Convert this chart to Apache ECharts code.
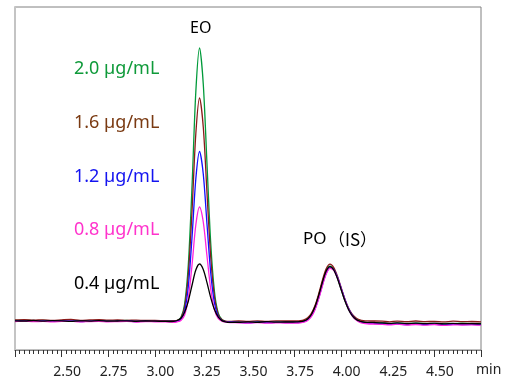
<!DOCTYPE html>
<html>
<head>
<meta charset="utf-8">
<script src="https://cdn.jsdelivr.net/npm/echarts@6/dist/echarts.min.js"></script>
<style>html,body{margin:0;padding:0;background:#fff}#c{width:522px;height:386px}</style>
</head>
<body>
<div id="c"></div>
<script>
// retention time (min)
const times = [
  2.25,2.30,2.35,2.40,2.45,2.50,2.55,2.60,2.65,2.70,2.75,2.80,2.85,2.90,2.95,3.00,3.05,
  3.08,3.10,3.12,3.14,3.16,3.18,3.20,3.22,3.24,3.26,3.28,3.30,3.32,3.34,3.36,3.38,3.40,
  3.45,3.50,3.55,3.60,3.65,3.70,
  3.74,3.76,3.78,3.80,3.82,3.84,3.86,3.88,3.90,3.92,3.94,3.96,3.98,4.00,4.02,4.04,4.06,4.08,4.10,4.12,4.14,4.16,4.18,
  4.22,4.26,4.30,4.35,4.40,4.45,4.50,4.55,4.60,4.65,4.70,4.75
];
const seriesNames = ['2.0 µg/mL','1.6 µg/mL','1.2 µg/mL','0.8 µg/mL','0.4 µg/mL'];
const c20 = [
  1.5,1.8,1.2,1.6,1.0,1.4,1.7,1.1,1.3,1.6,1.0,1.2,1.5,0.9,1.3,1.1,1.0,
  1,1,1.5,4.5,18,58,137,230,274,238,158,79,30.5,9,2.5,0.5,0,
  0.2,-0.3,0.3,-0.2,0.1,0,
  0,0.1,0.3,1.1,3.1,7.5,15.5,27.2,40.6,51.6,55.8,52.3,43.8,32.4,21.2,12.2,6.1,2.5,0.6,-0.3,-0.6,-0.8,-0.9,
  -1.0,-1.6,-1.1,-1.8,-1.2,-1.5,-1.9,-1.3,-1.6,-1.2,-1.7,-1.5
];
const c16 = [
  2.0,2.4,1.8,2.2,1.6,2.1,2.5,1.7,2.0,2.3,1.8,2.0,1.6,1.9,1.5,1.7,1.3,
  1.2,1.3,1.6,4,15,48,112,188,224,195,129,65,25,7.5,2.2,0.8,0.5,
  1.0,0.6,1.2,0.7,1.1,1.0,
  1,1.1,1.4,2.2,4.2,8.7,16.8,28.7,42.3,53.5,57.8,54.4,45.8,34.3,22.9,13.8,7.6,4,2.2,1.4,1.1,1,1,
  0.8,0.2,0.9,0.3,1.0,0.4,0.6,0.1,0.8,0.3,0.5,0.2
];
const c12 = [
  1.0,1.3,0.7,1.1,0.6,1.0,1.2,0.5,0.9,1.1,0.6,0.8,1.0,0.5,0.8,0.6,0.6,
  0.6,0.5,0.8,2.7,11,36,85.5,143,170.5,148,98,49,19,5.5,1.5,0.3,0,
  -0.3,-0.8,-0.2,-0.6,-0.4,-0.5,
  -0.5,-0.5,-0.3,0.3,2.2,6,13.2,24.3,37.5,49,54.2,52.3,44.7,33.8,22.6,13.3,6.6,2.6,0.4,-0.7,-1.2,-1.4,-1.5,
  -1.8,-2.4,-1.9,-2.6,-2.0,-2.5,-2.2,-2.8,-2.3,-2.6,-2.4,-2.7
];
const c08 = [
  0.5,0.9,0.3,0.7,0.2,0.6,0.8,0.1,0.5,0.7,0.2,0.4,0.6,0.0,0.4,0.2,0.1,
  0,-0.3,0.2,1.5,7,24,57.5,97,115,100,66,33,12.5,3.6,0.8,0,-0.5,
  -0.8,-1.2,-0.6,-1.1,-0.9,-1.0,
  -1,-1,-0.8,-0.2,1.6,5.4,12.6,23.6,36.8,48.3,53.6,51.6,44,33,21.8,12.5,5.9,1.9,-0.3,-1.3,-1.8,-2,-2,
  -2.3,-2.9,-2.2,-3.0,-2.5,-3.1,-2.6,-3.4,-2.8,-3.0,-2.9,-3.2
];
const c04 = [
  1.2,1.0,1.5,0.8,1.3,1.1,0.7,1.2,0.9,1.4,0.8,1.0,1.2,0.7,1.0,0.8,0.6,
  0.5,0.7,1.5,3.8,9.8,21,37,52,58,52.5,39.3,24.4,12.4,5,1.4,0.1,-0.4,
  -0.4,0.2,-0.3,0.3,-0.2,0,
  0,0.1,0.3,1.1,3.1,7.5,15.4,27,40.3,51.2,55.4,52,43.5,32.3,21.2,12.3,6.2,2.6,0.8,0,-0.3,-0.4,-0.5,
  -0.8,-1.3,-0.9,-1.5,-1.1,-1.6,-1.2,-1.8,-1.4,-1.7,-1.5,-1.8
];
const xTickLabels = ['2.50','2.75','3.00','3.25','3.50','3.75','4.00','4.25','4.50'];

const lineColors = ['#009a3a','#8b1a1a','#1010ff','#ff22dd','#000000'];
const labelColors = ['#0f9a3a','#7a3a12','#1414f0','#ff33cc','#000000'];
const values = [c20,c16,c12,c08,c04];

const chart = echarts.init(document.getElementById('c'), null, {renderer:'canvas'});
const font = '"Noto Sans", "Noto Sans CJK SC", sans-serif';
const cjk = '"Noto Sans CJK SC", "Noto Sans", sans-serif';
const labelY = [72,126,180,233,287];

chart.setOption({
  animation:false,
  grid:{left:15,right:41,top:7,bottom:36,show:true,borderColor:'#808080',borderWidth:1},
  xAxis:{
    type:'value', min:2.25, max:4.75, interval:0.25,
    axisLine:{show:true,onZero:false,lineStyle:{color:'#808080',width:1}},
    axisTick:{show:true,inside:false,length:7,lineStyle:{color:'#333'}},
    minorTick:{show:true,splitNumber:10,length:4,lineStyle:{color:'#333'}},
    splitLine:{show:false},
    axisLabel:{
      fontFamily:font,fontSize:14,color:'#222',margin:15,padding:[0,0,0,11],
      formatter:function(v){const s=v.toFixed(2);return xTickLabels.indexOf(s)>=0?s:'';}
    }
  },
  yAxis:{
    type:'value', min:-28, max:315, show:true,
    axisLine:{show:true,onZero:false,lineStyle:{color:'#c4c4c4',width:2}},
    axisTick:{show:false},axisLabel:{show:false},splitLine:{show:false}
  },
  series: values.map((vals,i)=>({
    name:seriesNames[i], type:'line', showSymbol:false, smooth:0.3,
    lineStyle:{color:lineColors[i],width:1.3},
    data: times.map((t,j)=>[t,vals[j]]),
    z: 2+i
  })),
  graphic:[
    {type:'text',left:190,top:20,style:{text:'EO',fontFamily:font,fontSize:16,fill:'#000'}},
    {type:'text',left:303,top:231,style:{text:'PO',fontFamily:font,fontSize:17,fill:'#000'}},
    {type:'text',left:328,top:231,style:{text:'（IS）',fontFamily:cjk,fontSize:17,fill:'#000'}},
    {type:'text',left:476,top:363,style:{text:'min',fontFamily:font,fontSize:14,fill:'#222'}}
  ].concat(seriesNames.map((n,i)=>({
    type:'text',left:74,top:labelY[i]-12,style:{text:n,fontFamily:font,fontSize:18,fill:labelColors[i]}
  })))
});
</script>
</body>
</html>
